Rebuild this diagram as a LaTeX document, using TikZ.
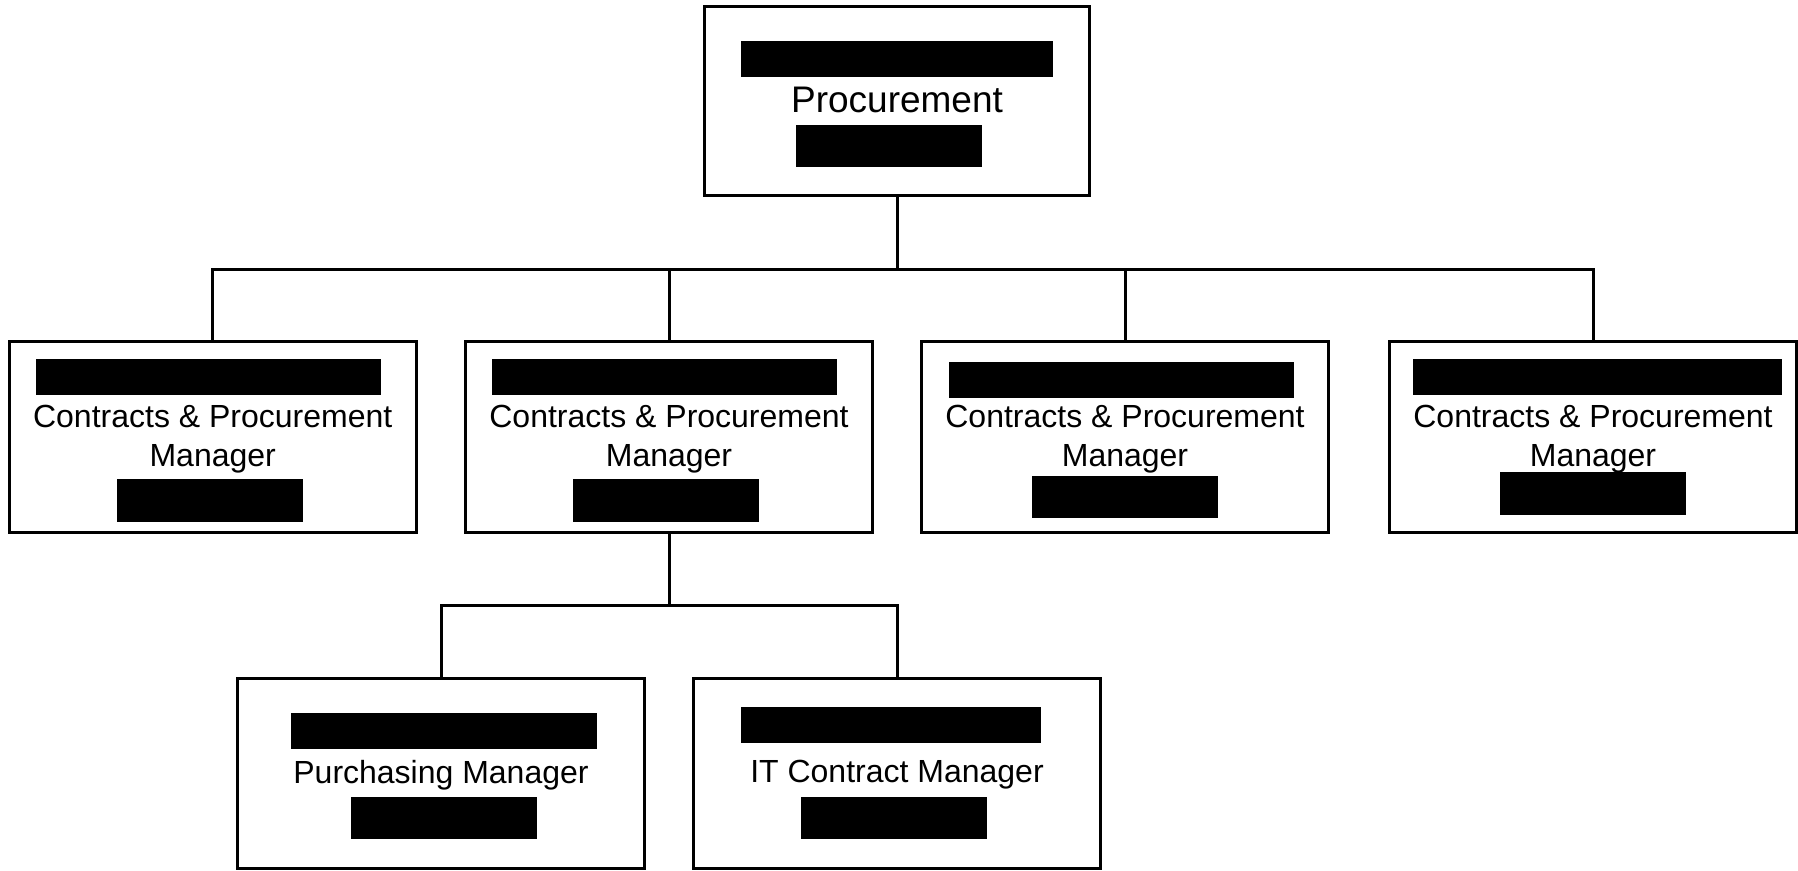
\documentclass[tikz,border=0pt]{standalone}
\usepackage{fontspec}
\setmainfont{Liberation Sans}
\usetikzlibrary{positioning}

\begin{document}
\begin{tikzpicture}[
    x=0.5pt, y=-0.5pt,
    post/.style={draw, line width=1.5pt, minimum width=203.5pt, minimum height=95pt, inner sep=0pt},
    redact/.style={fill=black, inner sep=0pt, minimum height=17.8pt},
    badge/.style={fill=black, inner sep=0pt, minimum width=93pt, minimum height=21.2pt},
    role/.style={align=center, inner sep=0pt, font=\fontsize{16}{19.2}\selectfont},
    link/.style={line width=1.5pt}
]
    \useasboundingbox (0,0) rectangle (1798,871);

    % head of department
    \node[post, minimum width=192.5pt, minimum height=94.5pt] (head) at (897,101) {};
    \node[redact, minimum width=156pt, minimum height=18pt] (headname) at (897,59) {};
    \node[role, font=\fontsize{18.5}{22}\selectfont] (headrole) at (897,100) {Procurement};
    \node[badge] (headbadge) at (888.5,146) {};

    % managers
    \node[post] (mgrA) at (212.7,437) {};
    \node[post] (mgrB) at (669,437) {};
    \node[post] (mgrC) at (1125,437) {};
    \node[post] (mgrD) at (1593,437) {};

    \node[redact, minimum width=172.5pt] (nameA) at (208,376.8) {};
    \node[redact, minimum width=172.5pt] (nameB) at (664.5,376.8) {};
    \node[redact, minimum width=172.5pt] (nameC) at (1121,380) {};
    \node[redact, minimum width=184.5pt] (nameD) at (1597,376.8) {};

    \node[role] (roleA) at (212.7,439) {Contracts \& Procurement\\Manager};
    \node[role] (roleB) at (669,439) {Contracts \& Procurement\\Manager};
    \node[role] (roleC) at (1125,439) {Contracts \& Procurement\\Manager};
    \node[role] (roleD) at (1593,439) {Contracts \& Procurement\\Manager};

    \node[badge] (badgeA) at (210,500.5) {};
    \node[badge] (badgeB) at (666,500.5) {};
    \node[badge] (badgeC) at (1125,497) {};
    \node[badge] (badgeD) at (1593,493.6) {};

    % team under second manager
    \node[post] (buy) at (441,773) {};
    \node[post] (itc) at (897,773) {};

    \node[redact, minimum width=153pt] (nameBuy) at (444,731) {};
    \node[redact, minimum width=150pt] (nameItc) at (891,725) {};
    \node[role] (roleBuy) at (441,775) {Purchasing Manager};
    \node[role] (roleItc) at (897,775) {IT Contract Manager};
    \node[badge] (badgeBuy) at (444,818) {};
    \node[badge] (badgeItc) at (894,818) {};

    % connectors
    \coordinate (bus) at (897,269.5);
    \coordinate (subbus) at (669,605);
    \draw[link] (head.south) -- (head.south |- bus);
    \draw[link] (mgrA.north) |- (bus) -| (mgrD.north);
    \draw[link] (mgrB.north) -- (mgrB.north |- bus);
    \draw[link] (mgrC.north) -- (mgrC.north |- bus);
    \draw[link] (mgrB.south) -- (mgrB.south |- subbus);
    \draw[link] (buy.north) |- (subbus) -| (itc.north);
\end{tikzpicture}
\end{document}
